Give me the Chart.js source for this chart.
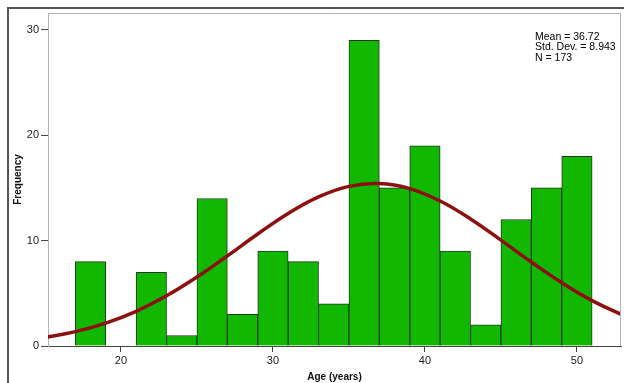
<!DOCTYPE html>
<html>
<head>
<meta charset="utf-8">
<script src="https://cdn.jsdelivr.net/npm/chart.js@4/dist/chart.umd.min.js"></script>
<style>
  html, body { margin: 0; padding: 0; background: #fff; }
  #wrap { width: 624px; height: 383px; }
</style>
</head>
<body>
<div id="wrap"><canvas id="hist"></canvas></div>
<script>
// bin centres (bin width 2 years) and counts
const binCenters = [18, 20, 22, 24, 26, 28, 30, 32, 34, 36, 38, 40, 42, 44, 46, 48, 50];
const counts     = [8, null, 7, 1, 14, 3, 9, 8, 4, 29, 15, 19, 9, 2, 12, 15, 18];

// normal curve
const curveX = [15, 17, 19, 21, 23, 25, 27, 29, 31, 33, 35, 37, 39, 41, 43, 45, 47, 49, 51, 53];
const curveY = [0.81, 1.36, 2.17, 3.29, 4.76, 6.54, 8.55, 10.63, 12.58, 14.15, 15.15, 15.42, 14.94, 13.76, 12.06, 10.05, 7.97, 6.01, 4.31, 2.94];

const xTicks = [20, 30, 40, 50];
const yTicks = [0, 10, 20, 30];
const statLines = ['Mean = 36.72', 'Std. Dev. = 8.943', 'N = 173'];

const FONT = '"Liberation Sans", Arial, sans-serif';

const framePlugin = {
    id: 'frame',
    beforeDraw(chart) {
        const ctx = chart.ctx;
        ctx.save();
        ctx.fillStyle = '#fff';
        ctx.fillRect(0, 0, chart.width, chart.height);
        ctx.restore();
    },
    afterDraw(chart) {
        const ctx = chart.ctx;
        const a = chart.chartArea;
        ctx.save();
        // outer frame
        ctx.strokeStyle = '#555';
        ctx.lineWidth = 2;
        ctx.beginPath();
        ctx.moveTo(8, chart.height + 5);
        ctx.lineTo(8, 8);
        ctx.lineTo(chart.width + 5, 8);
        ctx.stroke();
        // plot frame top + right
        ctx.strokeStyle = '#b5b5b5';
        ctx.lineWidth = 1;
        ctx.beginPath();
        ctx.moveTo(a.left, a.top + 0.5);
        ctx.lineTo(a.right - 0.5, a.top + 0.5);
        ctx.lineTo(a.right - 0.5, a.bottom);
        ctx.stroke();
        // stats box
        ctx.fillStyle = '#000';
        ctx.font = '10.5px ' + FONT;
        ctx.textBaseline = 'middle';
        statLines.forEach((t, i) => {
            ctx.fillText(t, 535, 37 + i * 10.6);
        });
        ctx.restore();
    }
};

const ctx = document.getElementById('hist').getContext('2d');
new Chart(ctx, {
    data: {
        datasets: [{
            type: 'line',
            data: curveX.map((x, i) => ({ x: x, y: curveY[i] })),
            borderColor: '#8c1010',
            borderWidth: 3.5,
            pointRadius: 0,
            tension: 0.4,
            fill: false,
            order: 0
        }, {
            type: 'bar',
            data: binCenters.map((x, i) => ({ x: x, y: counts[i] })),
            backgroundColor: '#12b800',
            borderColor: '#1f3a1f',
            borderWidth: 1,
            barPercentage: 1,
            categoryPercentage: 1,
            order: 1
        }]
    },
    options: {
        responsive: true,
        maintainAspectRatio: false,
        animation: false,
        layout: { padding: { top: 13, right: 3, left: 0, bottom: 0 } },
        plugins: {
            legend: { display: false },
            tooltip: { enabled: false }
        },
        scales: {
            x: {
                type: 'linear',
                min: 15.2,
                max: 52.9,
                offset: false,
                afterFit: (s) => { s.height = 37; },
                afterBuildTicks: (s) => { s.ticks = xTicks.map(v => ({ value: v })); },
                ticks: { font: { family: FONT, size: 11 }, color: '#222', padding: 2, maxRotation: 0 },
                grid: { offset: false, drawOnChartArea: false, drawTicks: true, tickLength: 6, color: '#444' },
                border: { display: true, color: '#444', width: 1 },
                title: {
                    display: true,
                    text: 'Age (years)',
                    font: { family: FONT, size: 10, weight: 'bold' },
                    color: '#111',
                    padding: { top: 0, bottom: 0 }
                }
            },
            y: {
                min: 0,
                max: 31.6,
                afterFit: (s) => { s.width = 48; },
                afterBuildTicks: (s) => { s.ticks = yTicks.map(v => ({ value: v })); },
                ticks: { font: { family: FONT, size: 11 }, color: '#222', padding: 2 },
                grid: { drawOnChartArea: false, drawTicks: true, tickLength: 7, color: '#444' },
                border: { display: true, color: '#b5b5b5', width: 1 },
                title: {
                    display: true,
                    text: 'Frequency',
                    font: { family: FONT, size: 10, weight: 'bold' },
                    color: '#111',
                    padding: { top: 12, bottom: 0 }
                }
            }
        }
    },
    plugins: [framePlugin]
});
</script>
</body>
</html>
